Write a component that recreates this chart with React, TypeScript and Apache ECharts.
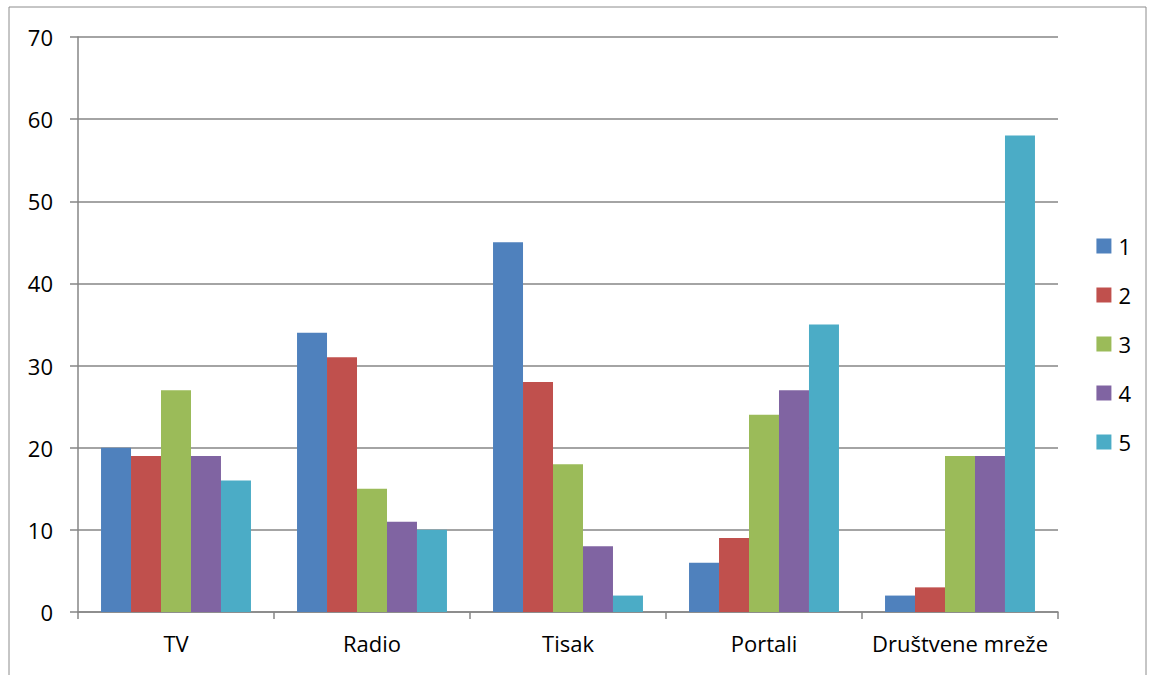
import React, { useEffect, useRef } from "react";
import * as echarts from "echarts";

const categories = ["TV", "Radio", "Tisak", "Portali", "Društvene mreže"];
const seriesNames = ["1", "2", "3", "4", "5"];
const s1 = [20, 34, 45, 6, 2];
const s2 = [19, 31, 28, 9, 3];
const s3 = [27, 15, 18, 24, 19];
const s4 = [19, 11, 8, 27, 19];
const s5 = [16, 10, 2, 35, 58];
const seriesValues = [s1, s2, s3, s4, s5];
const colors = ["#4F81BD", "#C0504D", "#9BBB59", "#8064A2", "#4BACC6"];
const yTicks = { min: 0, max: 70, interval: 10 };

const FONT = "'Open Sans', 'Noto Sans', sans-serif";

export default function App() {
  const ref = useRef<HTMLDivElement>(null);
  useEffect(() => {
    if (!ref.current) return;
    const chart = echarts.init(ref.current, null, { renderer: "svg" });
    chart.setOption({
      animation: false,
      backgroundColor: "#ffffff",
      color: colors,
      textStyle: { fontFamily: FONT },
      graphic: [
        {
          type: "rect",
          shape: { x: 9, y: 7, width: 1137, height: 670 },
          style: { fill: "none", stroke: "#8c8c8c", lineWidth: 1 },
          silent: true,
        },
      ],
      grid: { left: 78, right: 96, top: 37, bottom: 63, containLabel: false },
      legend: {
        orient: "vertical",
        right: 18,
        top: 230,
        itemWidth: 15,
        itemHeight: 15,
        itemGap: 27,
        icon: "rect",
        textStyle: { fontSize: 22, color: "#000", fontFamily: FONT, padding: [0, 0, 0, 2] },
        data: seriesNames,
      },
      xAxis: {
        type: "category",
        data: categories,
        axisLine: { lineStyle: { color: "#868686", width: 1.5 } },
        axisTick: { show: true, interval: 0, length: 7, lineStyle: { color: "#868686", width: 1.5 } },
        axisLabel: { interval: 0, fontSize: 22, color: "#000", margin: 20, fontFamily: FONT },
      },
      yAxis: {
        type: "value",
        min: yTicks.min,
        max: yTicks.max,
        interval: yTicks.interval,
        axisLine: { show: true, lineStyle: { color: "#868686", width: 1.5 } },
        axisTick: { show: true, length: 8, lineStyle: { color: "#868686", width: 1.5 } },
        axisLabel: { fontSize: 22, color: "#000", margin: 25, fontFamily: FONT },
        splitLine: { show: true, lineStyle: { color: "#868686", width: 1.5 } },
      },
      series: seriesNames.map((name, i) => ({
        name,
        type: "bar",
        data: seriesValues[i],
        barGap: "0%",
        barCategoryGap: "23.5%",
        itemStyle: { color: colors[i] },
      })),
    });
    return () => chart.dispose();
  }, []);
  return (
    <div
      ref={ref}
      style={{ position: "absolute", left: 0, top: 0, width: 1154, height: 675 }}
    />
  );
}
